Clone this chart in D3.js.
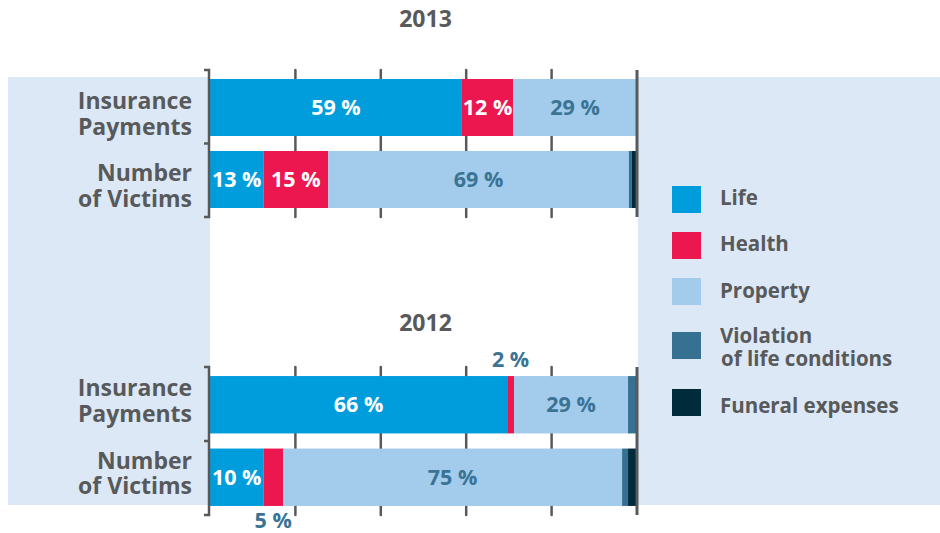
<!DOCTYPE html>
<html>
<head>
<meta charset="utf-8">
<script src="https://cdn.jsdelivr.net/npm/d3@7"></script>
<style>
  body { margin: 0; background: #fff; }
  text { font-family: "Open Sans", "Noto Sans", sans-serif; font-weight: 700; }
</style>
</head>
<body>
<div id="chart"></div>
<script>
// categories and rows
var categories = ["Life", "Health", "Property", "Violation", "Funeral"];
var legendNames = [["Life"], ["Health"], ["Property"], ["Violation", "of life conditions"], ["Funeral expenses"]];
var rows = ["Insurance Payments", "Number of Victims"];
var rowLines = [["Insurance", "Payments"], ["Number", "of Victims"]];
var years = ["2013", "2012"];

// shares in %
var payments2013 = [59, 12, 29, 0, 0];
var victims2013 = [12.5, 15.2, 70.4, 0.7, 1.2];
var payments2012 = [69.6, 1.6, 26.7, 2.1, 0];
var victims2012 = [12.5, 4.6, 79.4, 1.4, 2.1];

// printed labels
var payments2013Labels = ["59 %", "12 %", "29 %", "", ""];
var victims2013Labels = ["13 %", "15 %", "69 %", "", ""];
var payments2012Labels = ["66 %", "2 %", "29 %", "", ""];
var victims2012Labels = ["10 %", "5 %", "75 %", "", ""];

var colors = ["#009ddc", "#ec174f", "#a2cbec", "#367191", "#002b3b"];
var grey = "#58595b";
var labelBlue = "#3a7394";

var W = 940, H = 533;
var svg = d3.select("#chart").append("svg")
    .attr("width", W).attr("height", H);

// background panel, white plot strip on top
svg.append("rect").attr("x", 8).attr("y", 77).attr("width", W - 8).attr("height", 428)
    .attr("fill", "#dce8f5");

var x = d3.scaleLinear().domain([0, 100]).range([210, 637]);

svg.append("rect").attr("x", x(0)).attr("y", 77).attr("width", x(100) - x(0) + 1).attr("height", 428)
    .attr("fill", "#fff");

var color = d3.scaleOrdinal().domain(categories).range(colors);

var panels = [
    { year: years[0], titleY: 27, range: [71.5, 215.5], textShift: 1.5,
      values: [payments2013, victims2013], labels: [payments2013Labels, victims2013Labels] },
    { year: years[1], titleY: 331, range: [368.5, 513.5], textShift: -8.5,
      values: [payments2012, victims2012], labels: [payments2012Labels, victims2012Labels] }
];

panels.forEach(function(p) {
    var g = svg.append("g");

    var y = d3.scaleBand().domain(rows).range(p.range)
        .paddingInner(15 / 72).paddingOuter(7.5 / 72);

    // title
    g.append("text")
        .attr("x", (x(0) + x(100)) / 2 + 2)
        .attr("y", p.titleY)
        .attr("text-anchor", "middle")
        .attr("font-size", 23)
        .attr("fill", grey)
        .text(p.year);

    // tick lines behind the bars
    g.append("g").selectAll("line")
        .data(x.ticks(5).slice(1, -1))
        .enter().append("line")
        .attr("x1", function(d) { return x(d); })
        .attr("x2", function(d) { return x(d); })
        .attr("y1", p.range[0] - 1.5)
        .attr("y2", p.range[1] + 1.5)
        .attr("stroke", grey)
        .attr("stroke-width", 2.5)
        .attr("stroke-linecap", "round");

    var table = rows.map(function(r, i) {
        var o = { row: r };
        categories.forEach(function(c, j) { o[c] = p.values[i][j]; });
        return o;
    });
    var series = d3.stack().keys(categories)(table);

    // bars
    series.forEach(function(s) {
        g.append("g").selectAll("rect")
            .data(s)
            .enter().append("rect")
            .attr("x", function(d) { return x(d[0]); })
            .attr("y", function(d) { return y(d.data.row); })
            .attr("width", function(d) { return x(d[1]) - x(d[0]); })
            .attr("height", y.bandwidth())
            .attr("fill", color(s.key));
    });

    // value labels
    series.forEach(function(s, j) {
        s.forEach(function(d, i) {
            var txt = p.labels[i][j];
            if (!txt) return;
            var w = x(d[1]) - x(d[0]);
            var cx = (x(d[0]) + x(d[1])) / 2;
            var ty, fill;
            if (w > 30) {
                ty = y(d.data.row) + y.bandwidth() / 2 + 7.5;
                fill = j < 2 ? "#fff" : labelBlue;
            } else {
                ty = i === 0 ? y(d.data.row) - 9 : y(d.data.row) + y.bandwidth() + 22;
                fill = labelBlue;
            }
            g.append("text")
                .attr("x", cx)
                .attr("y", ty)
                .attr("text-anchor", "middle")
                .attr("font-size", 21.5)
                .attr("fill", fill)
                .text(txt);
        });
    });

    // 100 % line on top
    g.append("line")
        .attr("x1", x(100)).attr("x2", x(100))
        .attr("y1", p.range[0] - 1.5).attr("y2", p.range[1] + 1.5)
        .attr("stroke", grey).attr("stroke-width", 3);

    // left bracket
    var bx = x(0) - 1;
    var mid = y(rows[1]) - (y.step() - y.bandwidth()) / 2;
    var path = d3.path();
    path.moveTo(bx - 5, p.range[0] - 1.5);
    path.lineTo(bx, p.range[0] - 1.5);
    path.lineTo(bx, p.range[1] + 1.5);
    path.lineTo(bx - 5, p.range[1] + 1.5);
    path.moveTo(bx - 5, mid);
    path.lineTo(bx, mid);
    g.append("path").attr("d", path.toString())
        .attr("fill", "none").attr("stroke", grey).attr("stroke-width", 2.5);

    // row names
    rows.forEach(function(r, i) {
        rowLines[i].forEach(function(line, k) {
            g.append("text")
                .attr("x", 192)
                .attr("y", y(r) + y.bandwidth() / 2 + p.textShift + k * 25.5)
                .attr("text-anchor", "end")
                .attr("font-size", 23)
                .attr("fill", grey)
                .text(line);
        });
    });
});

// legend
var legendTop = [186, 232, 278, 332, 389];
var legendBase = [205, 251, 298, 343, 413];
var legend = svg.append("g");
categories.forEach(function(c, i) {
    legend.append("rect")
        .attr("x", 672).attr("y", legendTop[i])
        .attr("width", 29).attr("height", 27)
        .attr("fill", color(c));
    legendNames[i].forEach(function(line, k) {
        legend.append("text")
            .attr("x", k > 0 ? 721 : 720)
            .attr("y", legendBase[i] + k * 23)
            .attr("font-size", 20.5)
            .attr("fill", grey)
            .text(line);
    });
});
</script>
</body>
</html>
